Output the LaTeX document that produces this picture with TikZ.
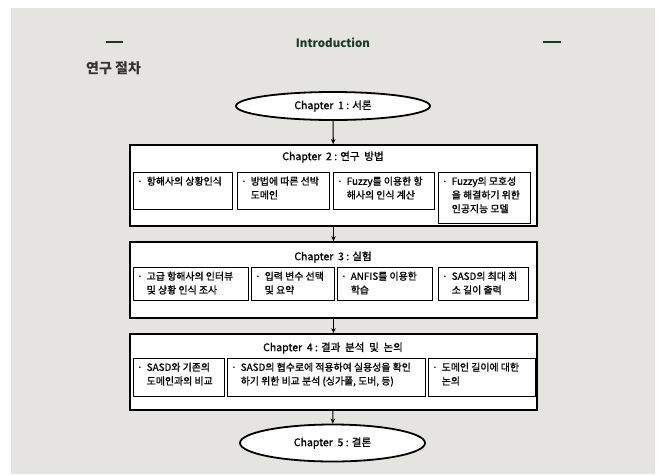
\documentclass[tikz,border=0pt]{standalone}
\usepackage{fontspec}
\setmainfont{Noto Sans CJK KR}
\newfontfamily\medfont[FakeBold=1.2]{Noto Sans CJK KR}
\usetikzlibrary{shapes.geometric,arrows.meta}
\definecolor{bggray}{HTML}{E5E4E0}
\definecolor{dgreen}{HTML}{183A26}
\definecolor{hdgray}{HTML}{333333}
\newcommand\itm[1]{\begin{tabular}[t]{@{}l@{\hspace{4pt}}l@{}}·&\begin{tabular}[t]{@{}l@{}}#1\end{tabular}\end{tabular}}
\tikzset{
  chap/.style={draw=black,line width=1.8pt,fill=white,shape=ellipse,inner sep=0pt,font=\medfont\fontsize{10.5}{12}\selectfont},
  outerbox/.style={draw=black,line width=1.8pt,fill=white,inner sep=0pt},
  innerbox/.style={draw=black,line width=1pt,fill=white,inner sep=0pt},
  ttl/.style={inner sep=0pt,font=\medfont\fontsize{10.5}{12}\selectfont},
  itxt/.style={inner sep=0pt,anchor=north west,font=\medfont\fontsize{9.9}{13.8}\selectfont},
  flow/.style={line width=1.1pt,-{Stealth[length=5pt,width=4.5pt]}},
  dashmark/.style={draw=dgreen,line width=2.6pt},
}
\renewcommand\arraystretch{1.0}
\begin{document}
\begin{tikzpicture}[x=1pt,y=-1pt]
\useasboundingbox (0,0) rectangle (659,475);
\fill[white] (0,0) rectangle (659,475);
\fill[bggray] (11,8) rectangle (655,474);
% header
\coordinate (dl1) at (106,42); \coordinate (dl2) at (123,42);
\coordinate (dr1) at (543,42); \coordinate (dr2) at (561,42);
\draw[dashmark] (dl1) -- (dl2);
\draw[dashmark] (dr1) -- (dr2);
\node[inner sep=0pt,text=dgreen,font=\fontsize{11.5}{13}\selectfont\bfseries] (intro) at (333,43) {Introduction};
\node[inner sep=0pt,anchor=west,text=hdgray,font=\fontsize{14}{16}\selectfont\bfseries] (proc) at (86,68) {연구 절차};
% chapter 1
\node[chap,minimum width=194pt,minimum height=28pt] (c1) at (333,106) {Chapter\ \ 1 : 서론};
% chapter 2
\node[outerbox,minimum width=407pt,minimum height=81pt] (o2) at (333.5,185.5) {};
\node[ttl] (t2) at (333,157) {Chapter\ \ 2 : 연구\ \ 방법};
\node[innerbox,anchor=north west,minimum width=99pt,minimum height=37pt] (b21) at (133,172) {};
\node[innerbox,anchor=north west,minimum width=92pt,minimum height=37pt] (b22) at (237,172) {};
\node[innerbox,anchor=north west,minimum width=101pt,minimum height=37pt] (b23) at (333,172) {};
\node[innerbox,anchor=north west,minimum width=92pt,minimum height=51pt] (b24) at (438,172) {};
\node[itxt] (x21) at ([xshift=4pt,yshift=-3pt]b21.north west) {\itm{항해사의 상황인식}};
\node[itxt] (x22) at ([xshift=4pt,yshift=-3pt]b22.north west) {\itm{방법에 따른 선박\\도메인}};
\node[itxt] (x23) at ([xshift=4pt,yshift=-3pt]b23.north west) {\itm{Fuzzy를 이용한 항\\해사의 인식 계산}};
\node[itxt] (x24) at ([xshift=4pt,yshift=-3pt]b24.north west) {\itm{Fuzzy의 모호성\\을 해결하기 위한\\인공지능 모델}};
% chapter 3
\node[outerbox,minimum width=407pt,minimum height=76pt] (o3) at (333.5,280) {};
\node[ttl] (t3) at (333,257) {Chapter\ \ 3 : 실험};
\node[innerbox,anchor=north west,minimum width=115pt,minimum height=33pt] (b31) at (133,267) {};
\node[innerbox,anchor=north west,minimum width=83pt,minimum height=33pt] (b32) at (251,267) {};
\node[innerbox,anchor=north west,minimum width=95pt,minimum height=33pt] (b33) at (337,267) {};
\node[innerbox,anchor=north west,minimum width=90pt,minimum height=33pt] (b34) at (438,267) {};
\node[itxt] (x31) at ([xshift=4pt,yshift=-3pt]b31.north west) {\itm{고급 항해사의 인터뷰\\및 상황 인식 조사}};
\node[itxt] (x32) at ([xshift=4pt,yshift=-3pt]b32.north west) {\itm{입력 변수 선택\\및 요약}};
\node[itxt] (x33) at ([xshift=4pt,yshift=-3pt]b33.north west) {\itm{ANFIS를 이용한\\학습}};
\node[itxt] (x34) at ([xshift=4pt,yshift=-3pt]b34.north west) {\itm{SASD의 최대 최\\소 길이 출력}};
% chapter 4
\node[outerbox,minimum width=407pt,minimum height=76pt] (o4) at (333.5,372) {};
\node[ttl] (t4) at (333,348) {Chapter\ \ 4 : 결과\ \ 분석\ \ 및\ \ 논의};
\node[innerbox,anchor=north west,minimum width=91pt,minimum height=38pt] (b41) at (133,358) {};
\node[innerbox,anchor=north west,minimum width=198pt,minimum height=38pt] (b42) at (227,358) {};
\node[innerbox,anchor=north west,minimum width=107pt,minimum height=38pt] (b43) at (428,358) {};
\node[itxt] (x41) at ([xshift=4pt,yshift=-3pt]b41.north west) {\itm{SASD와 기존의\\도메인과의 비교}};
\node[itxt] (x42) at ([xshift=4pt,yshift=-3pt]b42.north west) {\itm{SASD의 협수로에 적용하여 실용성을 확인\\하기 위한 비교 분석 (싱가폴, 도버, 등)}};
\node[itxt] (x43) at ([xshift=4pt,yshift=-3pt]b43.north west) {\itm{도메인 길이에 대한\\논의}};
% chapter 5
\node[chap,minimum width=185pt,minimum height=37pt] (c5) at (332.5,443) {Chapter\ \ 5 : 결론};
% arrows
\draw[flow] (c1) -- (o2);
\draw[flow] (o2) -- (o3);
\draw[flow] (o3) -- (o4);
\draw[flow] (o4) -- (c5);
\end{tikzpicture}
\end{document}
